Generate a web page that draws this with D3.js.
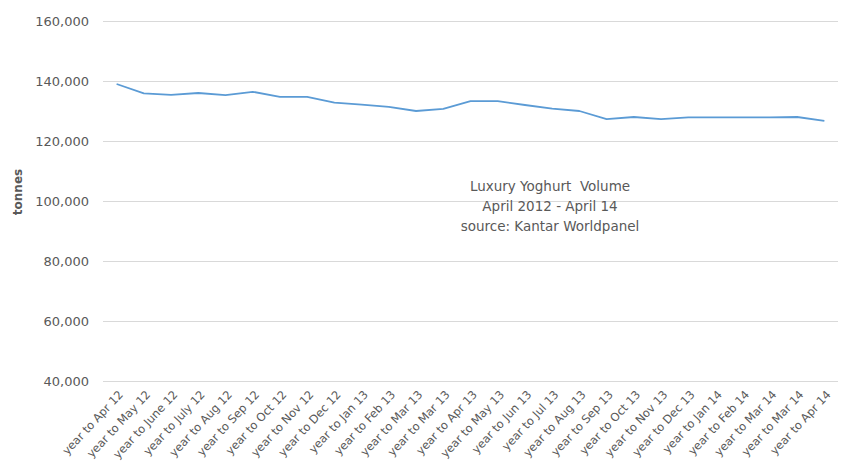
<!DOCTYPE html>
<html>
<head>
<meta charset="utf-8">
<script src="https://cdn.jsdelivr.net/npm/d3@7"></script>
<style>
  body { margin: 0; background: #fff; }
  text { font-family: "DejaVu Sans", sans-serif; fill: #595959; }
</style>
</head>
<body>
<script>
const months = [
  'year to Apr 12', 'year to May 12', 'year to June 12', 'year to July 12',
  'year to Aug 12', 'year to Sep 12', 'year to Oct 12', 'year to Nov 12',
  'year to Dec 12', 'year to Jan 13', 'year to Feb 13', 'year to Mar 13',
  'year to Mar 13', 'year to Apr 13', 'year to May 13', 'year to Jun 13',
  'year to Jul 13', 'year to Aug 13', 'year to Sep 13', 'year to Oct 13',
  'year to Nov 13', 'year to Dec 13', 'year to Jan 14', 'year to Feb 14',
  'year to Mar 14', 'year to Mar 14', 'year to Apr 14'
];
const volume = [
  139000, 135900, 135400, 136000, 135300, 136400, 134700, 134700,
  132800, 132100, 131400, 130000, 130700, 133300, 133300, 132000,
  130800, 130000, 127300, 128000, 127300, 127900, 127900, 127900,
  127900, 128000, 126700
];
const yTicks = [40000, 60000, 80000, 100000, 120000, 140000, 160000];
const note = ['Luxury Yoghurt  Volume', 'April 2012 - April 14', 'source: Kantar Worldpanel'];

const width = 841;
const height = 475;
const margin = { top: 21, right: 3, bottom: 94, left: 103 };

const data = months.map((m, i) => ({ key: i, label: m, value: volume[i] }));

const svg = d3.select('body')
  .append('svg')
    .attr('width', width)
    .attr('height', height);

const xScale = d3.scaleBand()
  .domain(data.map(d => d.key))
  .range([margin.left, width - margin.right]);

const yScale = d3.scaleLinear()
  .domain([40000, 160000])
  .range([height - margin.bottom, margin.top]);

// gridlines + y labels
const yAxis = d3.axisLeft(yScale)
  .tickValues(yTicks)
  .tickSize(-(width - margin.left - margin.right))
  .tickPadding(14)
  .tickFormat(d3.format(','));

svg.append('g')
    .attr('transform', `translate(${margin.left},0)`)
    .call(yAxis)
    .call(g => g.select('.domain').remove())
    .call(g => g.selectAll('.tick line').attr('stroke', '#d9d9d9'))
    .call(g => g.selectAll('.tick text')
      .attr('font-size', 13)
      .style('font-family', '"DejaVu Sans", sans-serif')
      .attr('fill', '#595959'));

// x labels
const xAxis = d3.axisBottom(xScale)
  .tickSize(0)
  .tickFormat(i => months[i]);

svg.append('g')
    .attr('transform', `translate(0,${height - margin.bottom})`)
    .call(xAxis)
    .call(g => g.select('.domain').remove())
    .call(g => g.selectAll('.tick text')
      .attr('font-size', 11.5)
      .style('font-family', '"DejaVu Sans", sans-serif')
      .attr('fill', '#666')
      .attr('text-anchor', 'end')
      .attr('dy', 0)
      .attr('transform', 'translate(5,12) rotate(-47)'));

// line
const line = d3.line()
  .x(d => xScale(d.key) + xScale.bandwidth() / 2)
  .y(d => yScale(d.value));

svg.append('path')
    .datum(data)
    .attr('fill', 'none')
    .attr('stroke', '#5b9bd5')
    .attr('stroke-width', 1.8)
    .attr('stroke-linejoin', 'round')
    .attr('d', line);

// y axis title
svg.append('text')
    .attr('transform', 'translate(22,192) rotate(-90)')
    .attr('text-anchor', 'middle')
    .attr('font-size', 12)
    .attr('font-weight', 'bold')
    .attr('fill', '#404040')
    .text('tonnes');

// annotation
svg.append('g')
  .selectAll('text')
  .data(note)
  .enter()
  .append('text')
    .attr('x', 550)
    .attr('y', (d, i) => 191 + i * 20)
    .attr('text-anchor', 'middle')
    .attr('font-size', 13.5)
    .attr('fill', '#404040')
    .style('white-space', 'pre')
    .text(d => d);
</script>
</body>
</html>
